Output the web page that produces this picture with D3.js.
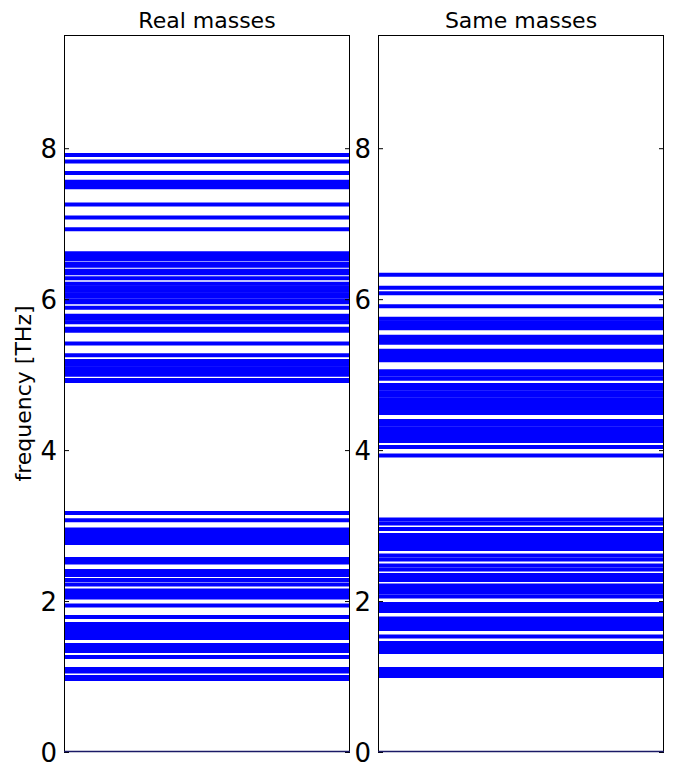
<!DOCTYPE html>
<html>
<head>
<meta charset="utf-8">
<script src="https://cdn.jsdelivr.net/npm/d3@7"></script>
<style>
  body { margin: 0; background: #fff; }
  text { font-family: "DejaVu Sans", sans-serif; fill: #000; }
</style>
</head>
<body>
<div id="chart"></div>
<script>
var svgWidth = 673;
var svgHeight = 762;

// panel titles
var panelTitles = ["Real masses", "Same masses"];

// phonon frequencies [THz]
var realMasses = [7.91, 7.825, 7.673, 7.556, 7.523, 7.483, 7.254, 7.083, 6.925,
  6.609, 6.570, 6.530, 6.470, 6.441, 6.375, 6.344, 6.278, 6.205, 6.159, 6.113,
  6.066, 6.04, 5.987, 5.960, 5.887, 5.781, 5.742, 5.695, 5.609, 5.583, 5.411,
  5.258, 5.179, 5.132, 5.086, 5.040, 5.0, 4.93, 4.915,
  3.166, 3.069, 2.947, 2.901, 2.854, 2.808, 2.768, 2.556, 2.510, 2.397, 2.344,
  2.278, 2.219, 2.139, 2.093, 2.046, 1.940, 1.788, 1.695, 1.649, 1.603, 1.556,
  1.510, 1.417, 1.371, 1.338, 1.258, 1.099, 1.066, 0.993, 0.967];

var sameMasses = [6.325, 6.150, 6.079, 5.907, 5.739, 5.695, 5.656, 5.616, 5.503,
  5.464, 5.424, 5.318, 5.272, 5.225, 5.192, 5.046, 5.0, 4.947, 4.861, 4.815,
  4.768, 4.722, 4.675, 4.629, 4.583, 4.536, 4.490, 4.384, 4.338, 4.291, 4.245,
  4.199, 4.152, 4.119, 4.040, 3.927,
  3.079, 3.026, 2.954, 2.874, 2.828, 2.781, 2.735, 2.689, 2.603, 2.550, 2.470,
  2.417, 2.344, 2.298, 2.278, 2.205, 2.159, 2.113, 2.060, 1.960, 1.914, 1.868,
  1.768, 1.722, 1.675, 1.629, 1.530, 1.444, 1.397, 1.351, 1.325, 1.099, 1.053,
  1.007];

var yTicks = [0, 2, 4, 6, 8];
var yMax = 9.5;

var panels = [
  { title: panelTitles[0], freqs: realMasses, left: 64 },
  { title: panelTitles[1], freqs: sameMasses, left: 378 }
];

var panelWidth = 286;
var plotTop = 35;
var plotBottom = 752;

var svg = d3.select("#chart")
  .append("svg")
  .attr("width", svgWidth)
  .attr("height", svgHeight);

var yScale = d3.scaleLinear()
  .domain([0, yMax])
  .range([plotBottom, plotTop]);

panels.forEach(function(p, i) {
  var g = svg.append("g")
    .attr("transform", `translate(${p.left}, 0)`);

  var xScale = d3.scaleLinear().domain([0, 1]).range([0, panelWidth]);

  g.append("clipPath")
    .attr("id", "clip" + i)
    .append("rect")
    .attr("x", 0)
    .attr("y", plotTop)
    .attr("width", panelWidth)
    .attr("height", plotBottom - plotTop);

  // one horizontal line per mode
  g.append("g")
    .attr("clip-path", `url(#clip${i})`)
    .selectAll("line")
    .data(p.freqs)
    .enter()
    .append("line")
    .attr("x1", xScale(0))
    .attr("x2", xScale(1))
    .attr("y1", d => yScale(d))
    .attr("y2", d => yScale(d))
    .attr("stroke", "#0000ff")
    .attr("stroke-width", 4);

  // inward ticks on both sides
  g.append("g")
    .call(d3.axisLeft(yScale).tickValues(yTicks).tickSize(-5).tickPadding(7)
      .tickFormat(d3.format("d")))
    .call(a => a.select(".domain").remove())
    .call(a => a.selectAll("text")
      .attr("font-size", "26px")
      .attr("font-family", "DejaVu Sans")
      .attr("dy", "0.35em"));

  g.append("g")
    .attr("transform", `translate(${panelWidth}, 0)`)
    .call(d3.axisRight(yScale).tickValues(yTicks).tickSize(-5).tickFormat(""))
    .call(a => a.select(".domain").remove());

  // frame
  g.append("rect")
    .attr("x", 0.5)
    .attr("y", plotTop + 0.5)
    .attr("width", panelWidth - 1)
    .attr("height", plotBottom - plotTop - 1)
    .attr("fill", "none")
    .attr("stroke", "#000")
    .attr("stroke-width", 1);

  g.append("line")
    .attr("x1", 0)
    .attr("x2", panelWidth)
    .attr("y1", plotBottom - 0.5)
    .attr("y2", plotBottom - 0.5)
    .attr("stroke", "#1a1a66")
    .attr("stroke-width", 1.5);

  g.append("text")
    .attr("x", panelWidth / 2)
    .attr("y", 28)
    .attr("text-anchor", "middle")
    .attr("font-size", "22px")
    .text(p.title);
});

svg.append("text")
  .attr("transform", "rotate(-90)")
  .attr("x", -(plotTop + plotBottom) / 2)
  .attr("y", 31)
  .attr("text-anchor", "middle")
  .attr("font-size", "22px")
  .text("frequency [THz]");
</script>
</body>
</html>
